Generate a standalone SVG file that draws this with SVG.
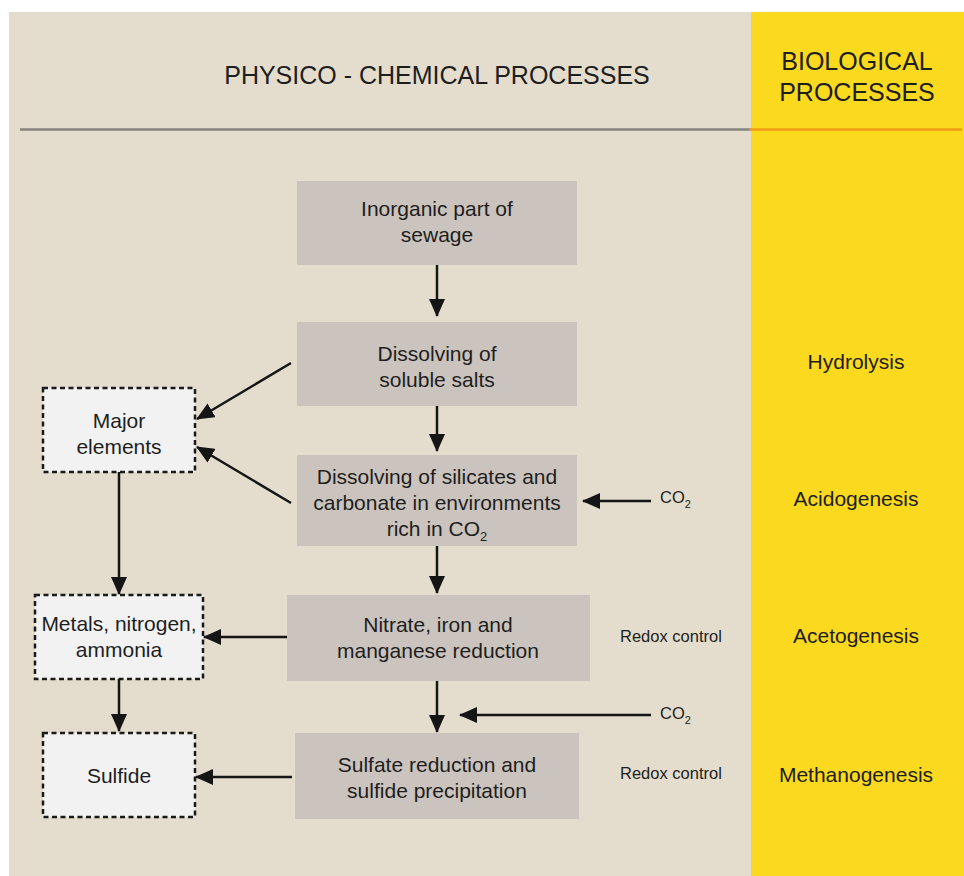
<svg xmlns="http://www.w3.org/2000/svg" width="964" height="876" viewBox="0 0 964 876">
  <style>
    text { font-family: "Liberation Sans", Arial, sans-serif; fill: #1e1e1e; text-anchor: middle; }
    .box { fill: #cbc3bd; }
    .out { fill: #f2f2f2; stroke: #1a1a1a; stroke-width: 2.5; stroke-dasharray: 5 3.5; }
    .lbl { font-size: 21px; }
    .side { font-size: 21px; }
    .small { font-size: 16.5px; text-anchor: start; }
    .head { font-size: 25px; }
    .conn line { stroke: #151515; stroke-width: 2.5; }
  </style>
  <defs>
    <marker id="arr" viewBox="0 0 18 16" refX="17" refY="8" markerWidth="18" markerHeight="16" markerUnits="userSpaceOnUse" orient="auto">
      <path d="M0,0 L18,8 L0,16 Z" fill="#151515"/>
    </marker>
  </defs>

  <!-- panels -->
  <rect x="9" y="12" width="742" height="864" fill="#e4ddcd"/>
  <rect x="751" y="12" width="213" height="864" fill="#fad91f"/>
  <line x1="20" y1="129.5" x2="751" y2="129.5" stroke="#868380" stroke-width="2.5"/>
  <line x1="749" y1="129.5" x2="962" y2="129.5" stroke="#f09a1a" stroke-width="2.5"/>

  <text class="head" x="437" y="84">PHYSICO - CHEMICAL PROCESSES</text>
  <text class="head" x="857" y="70">BIOLOGICAL</text>
  <text class="head" x="857" y="101">PROCESSES</text>

  <!-- process nodes -->
  <g id="inorganic">
    <rect class="box" x="297" y="181" width="280" height="84"/>
    <text class="lbl" x="437" y="216">Inorganic part of</text>
    <text class="lbl" x="437" y="242">sewage</text>
  </g>
  <g id="soluble-salts">
    <rect class="box" x="297" y="322" width="280" height="84"/>
    <text class="lbl" x="437" y="361">Dissolving of</text>
    <text class="lbl" x="437" y="387">soluble salts</text>
  </g>
  <g id="silicates">
    <rect class="box" x="297" y="455" width="280" height="91"/>
    <text class="lbl" x="437" y="484">Dissolving of silicates and</text>
    <text class="lbl" x="437" y="510">carbonate in environments</text>
    <text class="lbl" x="437" y="536">rich in CO<tspan font-size="13" dy="5">2</tspan></text>
  </g>
  <g id="nitrate">
    <rect class="box" x="287" y="595" width="303" height="86"/>
    <text class="lbl" x="438" y="632">Nitrate, iron and</text>
    <text class="lbl" x="438" y="658">manganese reduction</text>
  </g>
  <g id="sulfate">
    <rect class="box" x="295" y="733" width="284" height="86"/>
    <text class="lbl" x="437" y="772">Sulfate reduction and</text>
    <text class="lbl" x="437" y="798">sulfide precipitation</text>
  </g>

  <!-- products -->
  <g id="major-elements">
    <rect class="out" x="43" y="388" width="152" height="84"/>
    <text class="lbl" x="119" y="428">Major</text>
    <text class="lbl" x="119" y="454">elements</text>
  </g>
  <g id="metals">
    <rect class="out" x="35" y="595" width="168" height="84"/>
    <text class="lbl" x="119" y="631">Metals, nitrogen,</text>
    <text class="lbl" x="119" y="657">ammonia</text>
  </g>
  <g id="sulfide">
    <rect class="out" x="43" y="733" width="152" height="84"/>
    <text class="lbl" x="119" y="783">Sulfide</text>
  </g>

  <!-- side annotations -->
  <g id="co2-a"><text class="small" x="660" y="503">CO<tspan font-size="11" dy="5">2</tspan></text></g>
  <g id="co2-b"><text class="small" x="660" y="719">CO<tspan font-size="11" dy="5">2</tspan></text></g>
  <g id="redox-a"><text class="small" x="620" y="642">Redox control</text></g>
  <g id="redox-b"><text class="small" x="620" y="779">Redox control</text></g>

  <!-- biological stages -->
  <g id="hydrolysis"><text class="side" x="856" y="369">Hydrolysis</text></g>
  <g id="acidogenesis"><text class="side" x="856" y="506">Acidogenesis</text></g>
  <g id="acetogenesis"><text class="side" x="856" y="643">Acetogenesis</text></g>
  <g id="methanogenesis"><text class="side" x="856" y="782">Methanogenesis</text></g>

  <!-- connectors -->
  <g class="conn">
    <line x1="437" y1="265" x2="437" y2="316" marker-end="url(#arr)"/>
    <line x1="437" y1="406" x2="437" y2="451" marker-end="url(#arr)"/>
    <line x1="437" y1="546" x2="437" y2="593" marker-end="url(#arr)"/>
    <line x1="437" y1="681" x2="437" y2="732" marker-end="url(#arr)"/>
    <line x1="291" y1="363" x2="197" y2="419" marker-end="url(#arr)"/>
    <line x1="291" y1="503" x2="197" y2="447" marker-end="url(#arr)"/>
    <line x1="119" y1="472" x2="119" y2="594" marker-end="url(#arr)"/>
    <line x1="119" y1="679" x2="119" y2="731" marker-end="url(#arr)"/>
    <line x1="287" y1="637" x2="204" y2="637" marker-end="url(#arr)"/>
    <line x1="292" y1="777" x2="196" y2="777" marker-end="url(#arr)"/>
    <line x1="651" y1="501" x2="583" y2="501" marker-end="url(#arr)"/>
    <line x1="651" y1="715" x2="460" y2="715" marker-end="url(#arr)"/>
  </g>
</svg>
